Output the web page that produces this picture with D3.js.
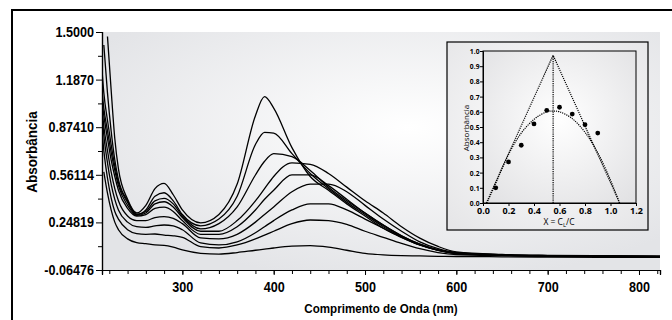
<!DOCTYPE html>
<html>
<head>
<meta charset="utf-8">
<script src="https://cdn.jsdelivr.net/npm/d3@7"></script>
<style>
  html, body { margin: 0; padding: 0; background: #fff; }
  svg { display: block; }
  .main text { font-family: "Liberation Sans", Arial, sans-serif; font-weight: bold; }
  .inset text { font-family: "Open Sans", "Noto Sans", sans-serif; }
</style>
</head>
<body>
<div id="root"></div>
<script>
// wavelengths (nm) shared by every spectrum
const wavelengths = [212, 214, 218, 222, 226, 230, 240, 250, 260, 270, 280, 290, 300, 320, 340, 360, 380, 390, 400, 420, 440, 460, 480, 500, 520, 540, 560, 580, 600, 650, 700, 760, 823];

// absorbance spectra
const specA = [null, null, 1.47, 1.12, 0.80, 0.60, 0.40, 0.31, 0.36, 0.47, 0.505, 0.43, 0.33, 0.245, 0.30, 0.50, 0.95, 1.075, 1.00, 0.74, 0.55, 0.46, 0.37, 0.29, 0.21, 0.15, 0.10, 0.065, 0.045, 0.032, 0.027, 0.024, 0.022];
const specB = [null, 1.415, 1.10, 0.85, 0.66, 0.53, 0.39, 0.30, 0.33, 0.42, 0.443, 0.39, 0.30, 0.226, 0.27, 0.42, 0.76, 0.84, 0.835, 0.70, 0.57, 0.47, 0.38, 0.30, 0.22, 0.155, 0.10, 0.066, 0.046, 0.033, 0.028, 0.025, 0.023];
const specC = [1.25, 1.10, 0.92, 0.76, 0.62, 0.51, 0.38, 0.30, 0.32, 0.39, 0.406, 0.37, 0.29, 0.205, 0.24, 0.35, 0.56, 0.65, 0.70, 0.68, 0.59, 0.48, 0.39, 0.31, 0.23, 0.16, 0.105, 0.068, 0.047, 0.034, 0.029, 0.026, 0.024];
const specD = [1.11, 1.00, 0.85, 0.71, 0.59, 0.49, 0.36, 0.295, 0.31, 0.37, 0.384, 0.35, 0.28, 0.19, 0.19, 0.26, 0.39, 0.47, 0.55, 0.64, 0.63, 0.57, 0.48, 0.39, 0.31, 0.22, 0.145, 0.09, 0.055, 0.038, 0.032, 0.029, 0.027];
const specE = [1.05, 0.95, 0.80, 0.66, 0.55, 0.46, 0.34, 0.29, 0.30, 0.34, 0.348, 0.32, 0.26, 0.17, 0.17, 0.22, 0.33, 0.40, 0.46, 0.56, 0.56, 0.49, 0.40, 0.31, 0.23, 0.16, 0.105, 0.068, 0.047, 0.034, 0.029, 0.026, 0.024];
const specF = [1.00, 0.88, 0.72, 0.58, 0.47, 0.39, 0.29, 0.26, 0.26, 0.28, 0.286, 0.275, 0.24, 0.146, 0.14, 0.17, 0.25, 0.30, 0.35, 0.45, 0.50, 0.50, 0.45, 0.36, 0.27, 0.19, 0.12, 0.075, 0.05, 0.036, 0.030, 0.027, 0.025];
const specG = [0.95, 0.82, 0.64, 0.50, 0.40, 0.33, 0.25, 0.22, 0.215, 0.225, 0.231, 0.225, 0.20, 0.113, 0.10, 0.12, 0.18, 0.22, 0.26, 0.33, 0.37, 0.37, 0.33, 0.27, 0.21, 0.15, 0.10, 0.065, 0.045, 0.033, 0.028, 0.025, 0.023];
const specH = [0.85, 0.72, 0.54, 0.41, 0.32, 0.27, 0.20, 0.175, 0.17, 0.172, 0.165, 0.16, 0.15, 0.089, 0.08, 0.10, 0.14, 0.165, 0.19, 0.24, 0.264, 0.26, 0.235, 0.19, 0.15, 0.11, 0.075, 0.05, 0.037, 0.03, 0.026, 0.024, 0.022];
const specI = [null, 0.58, 0.44, 0.33, 0.25, 0.20, 0.14, 0.115, 0.108, 0.10, 0.097, 0.085, 0.067, 0.045, 0.04, 0.05, 0.065, 0.072, 0.08, 0.092, 0.095, 0.085, 0.065, 0.045, 0.035, 0.03, 0.028, 0.025, 0.024, 0.022, 0.02, 0.019, 0.018];
const spectra = [specA, specB, specC, specD, specE, specF, specG, specH, specI];

// axis ticks
const yTickValues = [-0.06476, 0.24819, 0.56114, 0.87410, 1.1870, 1.5000];
const yTickLabels = ["-0.06476", "0.24819", "0.56114", "0.87410", "1.1870", "1.5000"];
const xTickValues = [300, 400, 500, 600, 700, 800];

// inset: Job plot
const jobX = [0.1, 0.2, 0.3, 0.4, 0.5, 0.6, 0.7, 0.8, 0.9];
const jobY = [0.10, 0.27, 0.38, 0.52, 0.61, 0.63, 0.585, 0.515, 0.46];
const fitX = [0.03, 0.1, 0.2, 0.3, 0.4, 0.5, 0.55, 0.6, 0.7, 0.8, 0.9, 1.0, 1.07];
const fitY = [0, 0.13, 0.32, 0.46, 0.55, 0.60, 0.605, 0.60, 0.555, 0.465, 0.33, 0.15, 0];
const triX = [0.026, 0.55, 1.072];
const triY = [0, 0.972, 0];

const width = 672, height = 320;
const svg = d3.select("#root").append("svg")
  .attr("width", width)
  .attr("height", height);

const defs = svg.append("defs");
function radial(id, cx, cy, r, inner, outer) {
  const g = defs.append("radialGradient").attr("id", id)
    .attr("cx", cx).attr("cy", cy).attr("r", r);
  g.append("stop").attr("offset", "0%").attr("stop-color", inner);
  g.append("stop").attr("offset", "100%").attr("stop-color", outer);
}
radial("bgMain", "55%", "40%", "65%", "#ffffff", "#e3e4e7");
radial("bgInset", "50%", "45%", "70%", "#ffffff", "#e6e6e8");
radial("bgInsetPlot", "50%", "45%", "70%", "#ffffff", "#e2e2e4");

// condensed look: squeeze text horizontally around its anchor
function squeeze(sel, k) {
  sel.each(function () {
    const t = d3.select(this);
    const tx = +t.attr("x") || 0;
    t.attr("x", 0).attr("transform", `translate(${tx},0) scale(${k},1)`);
  });
}

// outer frame
svg.append("rect")
  .attr("x", 12).attr("y", 10)
  .attr("width", 700).attr("height", 400)
  .attr("fill", "#fff")
  .attr("stroke", "#000")
  .attr("stroke-width", 2);

// main plot
const plot = { left: 102, right: 660, top: 32, bottom: 270 };
const main = svg.append("g").attr("class", "main");

const x = d3.scaleLinear().domain([212, 823]).range([plot.left, plot.right]);
const y = d3.scaleLinear().domain([yTickValues[0], yTickValues[5]]).range([plot.bottom, plot.top]);

main.append("rect")
  .attr("x", plot.left).attr("y", plot.top)
  .attr("width", plot.right - plot.left).attr("height", plot.bottom - plot.top)
  .attr("fill", "url(#bgMain)");

defs.append("clipPath").attr("id", "clipMain")
  .append("rect")
  .attr("x", plot.left).attr("y", plot.top)
  .attr("width", plot.right - plot.left).attr("height", plot.bottom - plot.top);

const spectrumLine = d3.line()
  .defined(d => d[1] != null)
  .x(d => x(d[0]))
  .y(d => y(d[1]))
  .curve(d3.curveMonotoneX);

main.append("g")
  .attr("clip-path", "url(#clipMain)")
  .selectAll("path")
  .data(spectra)
  .enter()
  .append("path")
  .attr("d", s => spectrumLine(wavelengths.map((w, i) => [w, s[i]])))
  .attr("fill", "none")
  .attr("stroke", "#000")
  .attr("stroke-width", 1.3);

// y axis
const yMinor = yTickValues.slice(1).map((v, i) => (v + yTickValues[i]) / 2);
const yAxisG = main.append("g").attr("transform", `translate(${plot.left},0)`);
yAxisG.call(d3.axisLeft(y).tickValues(yMinor).tickSize(4).tickFormat(""));
yAxisG.append("g").call(d3.axisLeft(y)
  .tickValues(yTickValues)
  .tickSize(6)
  .tickPadding(2)
  .tickFormat((d, i) => yTickLabels[i]));
yAxisG.selectAll(".domain").attr("stroke-width", 1.2);
yAxisG.selectAll("text").attr("font-size", 14).attr("fill", "#000").call(squeeze, 0.9);

// x axis
const xAxisG = main.append("g").attr("transform", `translate(0,${plot.bottom})`);
xAxisG.call(d3.axisBottom(x).tickValues(d3.range(220, 823, 20)).tickSize(4).tickFormat(""));
xAxisG.append("g").call(d3.axisBottom(x)
  .tickValues(xTickValues)
  .tickSize(5)
  .tickPadding(7)
  .tickFormat(d3.format("d")));
xAxisG.selectAll(".domain").attr("stroke-width", 1.2);
xAxisG.selectAll("text").attr("font-size", 14).attr("fill", "#000").call(squeeze, 0.9);

// axis titles
main.append("text")
  .attr("transform", `translate(${(plot.left + plot.right) / 2},313) scale(0.86,1)`)
  .attr("text-anchor", "middle")
  .attr("font-size", 13.5)
  .text("Comprimento de Onda (nm)");

main.append("text")
  .attr("transform", "translate(37,152) rotate(-90) scale(0.9,1)")
  .attr("text-anchor", "middle")
  .attr("font-size", 15)
  .text("Absorbância");

// inset
const inset = svg.append("g").attr("class", "inset");
inset.append("rect")
  .attr("x", 447).attr("y", 42)
  .attr("width", 201).attr("height", 188)
  .attr("fill", "url(#bgInset)")
  .attr("stroke", "#000")
  .attr("stroke-width", 1.2);

const ib = { left: 483, right: 636, top: 51, bottom: 203 };
const ix = d3.scaleLinear().domain([0, 1.2]).range([ib.left, ib.right]);
const iy = d3.scaleLinear().domain([0, 1.0]).range([ib.bottom, ib.top]);

inset.append("rect")
  .attr("x", ib.left).attr("y", ib.top)
  .attr("width", ib.right - ib.left).attr("height", ib.bottom - ib.top)
  .attr("fill", "url(#bgInsetPlot)")
  .attr("stroke", "#000")
  .attr("stroke-width", 1);

const iyAxis = inset.append("g").attr("transform", `translate(${ib.left},0)`)
  .call(d3.axisLeft(iy).tickValues(d3.range(0, 1.01, 0.1)).tickSize(3).tickPadding(0.5).tickFormat(d3.format(".1f")));
iyAxis.selectAll(".tick text").attr("font-size", 7.5).call(squeeze, 0.9);
const ixAxis = inset.append("g").attr("transform", `translate(0,${ib.bottom})`)
  .call(d3.axisBottom(ix).tickValues(d3.range(0, 1.21, 0.2)).tickSize(3).tickPadding(2).tickFormat(d3.format(".1f")));
ixAxis.selectAll(".tick text").attr("font-size", 9);
inset.selectAll(".tick text")
  .attr("font-weight", 700)
  .attr("fill", "#000");

inset.append("text")
  .attr("transform", "translate(469,128) rotate(-90)")
  .attr("text-anchor", "middle")
  .attr("font-size", 8)
  .text("Absorbância");

const xt = inset.append("text")
  .attr("x", 559).attr("y", 225)
  .attr("text-anchor", "middle")
  .attr("font-size", 8.5);
xt.append("tspan").text("X = C");
xt.append("tspan").attr("font-size", 6).attr("dy", 2).text("L");
xt.append("tspan").attr("dy", -2).text("/C");

const dotted = d3.line().x(d => ix(d[0])).y(d => iy(d[1]));

// triangle (extrapolated straight lines)
inset.append("path")
  .attr("d", dotted(triX.map((v, i) => [v, triY[i]])))
  .attr("fill", "none")
  .attr("stroke", "#000")
  .attr("stroke-width", 1.2)
  .attr("stroke-dasharray", "1.2,1");

// vertical line at the maximum
inset.append("path")
  .attr("d", dotted([[triX[1], 0], [triX[1], triY[1]]]))
  .attr("fill", "none")
  .attr("stroke", "#000")
  .attr("stroke-width", 1.2)
  .attr("stroke-dasharray", "1.2,1");

// fitted curve
inset.append("path")
  .attr("d", d3.line().x(d => ix(d[0])).y(d => iy(d[1])).curve(d3.curveCatmullRom)(fitX.map((v, i) => [v, fitY[i]])))
  .attr("fill", "none")
  .attr("stroke", "#000")
  .attr("stroke-width", 1.2)
  .attr("stroke-dasharray", "1.2,1");

inset.selectAll("circle")
  .data(jobX)
  .enter()
  .append("circle")
  .attr("cx", d => ix(d))
  .attr("cy", (d, i) => iy(jobY[i]))
  .attr("r", 2.4)
  .attr("fill", "#000");
</script>
</body>
</html>
